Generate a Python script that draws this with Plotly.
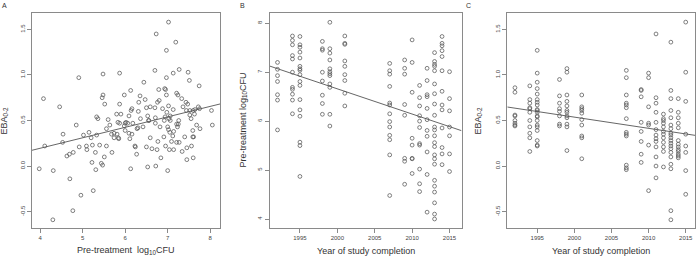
import plotly.graph_objects as go

# ---------------- data ----------------
A_cfu = [4.08, 3.98, 4.11, 4.31, 4.30, 4.46, 4.54, 4.53, 4.63, 4.69, 4.70, 4.77, 4.78, 4.85, 4.91, 4.92,
         4.96, 5.02, 5.10, 5.09, 5.15, 5.20, 5.23, 5.22, 5.25, 5.30, 5.31, 5.33, 5.33, 5.36, 5.40, 5.44,
         5.47, 5.48, 5.46, 5.48, 5.52, 5.51, 5.56, 5.60, 5.64, 5.56, 5.68, 5.69, 5.74, 5.74, 5.81, 5.85,
         5.84, 5.80, 5.83, 5.87, 5.90, 5.87, 5.87, 5.98, 6.00, 6.00,
         7.02, 6.73, 7.19, 6.97, 6.70, 7.13, 7.27, 7.48, 6.97, 7.51, 6.13, 6.44, 6.79, 6.93, 6.95, 7.74,
         6.35, 6.47, 6.32, 6.80, 6.76, 6.97, 7.21, 7.24, 7.33, 7.43, 7.47, 6.16, 6.14, 6.31, 6.50,
         6.59, 6.70, 7.02, 6.88, 7.13, 6.98, 7.36, 7.44, 7.52, 7.60, 7.64, 7.72, 7.75, 8.03, 6.09, 6.36,
         6.53, 6.55, 6.71, 6.94, 7.06, 7.03, 7.06, 6.92, 7.26, 7.52, 7.55, 7.63, 6.02, 6.06, 5.98, 6.18,
         6.30, 6.42, 6.56, 6.71, 6.82, 7.00, 7.02, 7.21, 7.25, 7.23, 7.68, 7.76, 8.05, 6.09, 6.16, 6.28,
         7.05, 7.14, 7.59, 6.11, 6.59, 6.77, 6.91, 7.12, 7.40, 7.59, 7.61, 6.23, 6.24, 6.50, 6.63,
         7.09, 7.21, 7.27, 6.95, 7.45, 7.56, 6.27, 6.75, 7.04, 7.14, 7.34, 6.84, 7.45, 7.60, 6.13, 6.53,
         6.72, 7.00]
A_eba = [0.74, -0.03, 0.22, -0.05, -0.59, 0.65, 0.35, 0.26, 0.11, 0.13, -0.14, -0.49, 0.15, 0.45, 0.97, 0.21,
         -0.32, 0.34, 0.18, 0.22, 0.37, 0.31, 0.23, 0.04, -0.27, 0.15, -0.04, 0.34, 0.54, 0.52, 0.23, 0.03,
         0.01, 1.01, 0.75, 0.78, 0.68, 0.10, 0.22, 0.51, 0.45, 0.41, 0.35, 0.15, 0.31, 0.36, 0.35, 0.30,
         0.31, 0.57, 0.48, 0.47, 0.57, 0.68, 1.02, 0.78, 0.47, 0.39,
         1.58, 1.45, 1.36, 1.27, 1.05, 1.02, 1.06, 1.03, 0.97, 0.94, 0.83, 0.92, 0.84, 0.85, 0.84, 0.88,
         0.77, 0.73, 0.70, 0.72, 0.70, 0.78, 0.80, 0.78, 0.74, 0.70, 0.68, 0.63, 0.61, 0.60, 0.64,
         0.65, 0.64, 0.66, 0.63, 0.62, 0.59, 0.65, 0.61, 0.61, 0.61, 0.62, 0.65, 0.63, 0.61, 0.55, 0.52,
         0.55, 0.50, 0.53, 0.54, 0.55, 0.52, 0.50, 0.50, 0.50, 0.56, 0.52, 0.57, 0.48, 0.47, 0.44, 0.47,
         0.42, 0.43, 0.50, 0.47, 0.43, 0.43, 0.40, 0.46, 0.46, 0.43, 0.45, 0.41, 0.45, 0.36, 0.35, 0.41,
         0.37, 0.38, 0.39, 0.30, 0.31, 0.27, 0.32, 0.33, 0.32, 0.32, 0.32, 0.22, 0.21, 0.21, 0.19,
         0.27, 0.26, 0.26, 0.22, 0.20, 0.22, 0.13, 0.18, 0.18, 0.18, 0.16, 0.09, 0.07, 0.09, -0.03, -0.01,
         0.00, -0.05]

B_year = [1992, 1992, 1992, 1992, 1992, 1992, 1992,
          1994, 1994, 1994, 1994, 1994, 1994, 1994, 1994, 1994, 1994, 1994,
          1995, 1995, 1995, 1995, 1995, 1995, 1995, 1995, 1995, 1995, 1995, 1995, 1995, 1995, 1995, 1995, 1995,
          1998, 1998, 1998, 1998, 1998, 1998, 1998, 1998,
          1999, 1999, 1999, 1999, 1999, 1999, 1999, 1999, 1999, 1999, 1999, 1999,
          2001, 2001, 2001, 2001, 2001, 2001, 2001, 2001, 2001,
          2007, 2007, 2007, 2007, 2007, 2007, 2007, 2007, 2007, 2007, 2007, 2007, 2007,
          2009, 2009, 2009, 2009, 2009, 2009, 2009, 2009,
          2010, 2010, 2010, 2010, 2010, 2010, 2010, 2010,
          2011, 2011, 2011, 2011, 2011, 2011, 2011, 2011, 2011, 2011, 2011,
          2012, 2012, 2012, 2012, 2012, 2012, 2012, 2012, 2012, 2012, 2012,
          2013, 2013, 2013, 2013, 2013, 2013, 2013, 2013, 2013, 2013, 2013, 2013, 2013, 2013, 2013, 2013,
          2013, 2013, 2013, 2013, 2013, 2013, 2013,
          2014, 2014, 2014, 2014, 2014, 2014, 2014, 2014, 2014, 2014, 2014, 2014, 2014,
          2015, 2015, 2015, 2015, 2015, 2015, 2015]
B_cfu = [7.20, 7.06, 6.93, 6.81, 6.54, 6.43, 5.82,
         7.74, 7.65, 7.56, 7.34, 7.27, 7.00, 6.69, 6.65, 6.55, 6.43, 6.15,
         7.73, 7.56, 7.51, 7.41, 7.29, 7.12, 7.07, 7.04, 6.95, 6.81, 6.73, 6.44, 6.23, 6.10, 5.57, 5.50, 4.87,
         7.63, 7.48, 7.45, 7.00, 6.82, 6.53, 6.36, 6.14,
         8.02, 7.48, 7.39, 7.25, 7.07, 7.01, 6.97, 6.93, 6.76, 6.69, 6.14, 5.90,
         7.74, 7.59, 7.57, 7.23, 7.12, 6.95, 6.83, 6.57, 6.31,
         7.18, 7.03, 6.96, 6.71, 6.37, 6.33, 6.15, 5.99, 5.88, 5.71, 5.62, 5.31, 4.48,
         7.25, 7.08, 6.96, 6.34, 6.12, 5.24, 5.18, 4.71,
         7.66, 7.20, 6.59, 5.65, 5.51, 5.23, 5.24, 4.93,
         6.73, 6.48, 6.31, 6.11, 6.00, 5.87, 5.54, 5.51, 5.02, 4.72, 4.56,
         7.08, 6.83, 6.54, 6.50, 6.26, 6.03, 5.81, 5.69, 5.37, 4.91, 4.14,
         7.40, 7.22, 7.16, 7.12, 7.03, 6.76, 6.56, 6.35, 6.12, 5.88, 5.82, 5.70, 5.56, 5.48, 5.31, 5.23,
         5.12, 4.79, 4.67, 4.55, 4.33, 4.10, 4.00,
         7.73, 7.59, 7.54, 7.44, 7.32, 7.03, 6.61, 6.33, 6.23, 5.86, 5.46, 5.33, 5.11,
         7.01, 6.46, 6.21, 5.88, 5.70, 5.33, 4.97]

C_year = [1992, 1992, 1992, 1992, 1992, 1992, 1992, 1992,
          1994, 1994, 1994, 1994, 1994, 1994, 1994, 1994, 1994, 1994, 1994,
          1995, 1995, 1995, 1995, 1995, 1995, 1995, 1995, 1995, 1995, 1995, 1995, 1995, 1995, 1995, 1995,
          1995, 1995, 1995, 1995,
          1998, 1998, 1998, 1998, 1998, 1998, 1998, 1998,
          1999, 1999, 1999, 1999, 1999, 1999, 1999, 1999, 1999, 1999, 1999, 1999,
          2001, 2001, 2001, 2001, 2001, 2001, 2001, 2001, 2001, 2001,
          2007, 2007, 2007, 2007, 2007, 2007, 2007, 2007, 2007, 2007, 2007, 2007, 2007,
          2009, 2009, 2009, 2009, 2009, 2009, 2009, 2009,
          2010, 2010, 2010, 2010, 2010, 2010, 2010,
          2011, 2011, 2011, 2011, 2011, 2011, 2011, 2011, 2011, 2011, 2011, 2011, 2011,
          2012, 2012, 2012, 2012, 2012, 2012, 2012, 2012, 2012, 2012, 2012, 2012,
          2013, 2013, 2013, 2013, 2013, 2013, 2013, 2013, 2013, 2013, 2013, 2013, 2013, 2013, 2013, 2013,
          2013, 2013, 2013, 2013,
          2014, 2014, 2014, 2014, 2014, 2014, 2014, 2014, 2014, 2014, 2014, 2014, 2014,
          2015, 2015, 2015, 2015, 2015, 2015, 2015, 2015]
C_eba = [0.86, 0.81, 0.56, 0.55, 0.50, 0.47, 0.45, 0.44,
         0.88, 0.73, 0.69, 0.64, 0.63, 0.59, 0.50, 0.43, 0.36, 0.31, 0.16,
         1.27, 1.02, 0.92, 0.85, 0.79, 0.73, 0.70, 0.67, 0.62, 0.61, 0.59, 0.55, 0.54, 0.50, 0.45, 0.43,
         0.39, 0.28, 0.23, 0.22,
         0.95, 0.77, 0.69, 0.63, 0.60, 0.55, 0.46, 0.44,
         1.07, 1.03, 0.78, 0.71, 0.66, 0.61, 0.59, 0.55, 0.53, 0.46, 0.43, 0.17,
         0.78, 0.65, 0.63, 0.61, 0.58, 0.51, 0.45, 0.33, 0.31, 0.08,
         1.05, 0.97, 0.78, 0.69, 0.67, 0.64, 0.52, 0.37, 0.35, 0.33, 0.01, -0.02, -0.04,
         0.84, 0.83, 0.76, 0.48, 0.38, 0.27, 0.13, 0.04,
         1.02, 0.97, 0.65, 0.47, 0.45, 0.23, -0.27,
         1.45, 0.75, 0.69, 0.59, 0.48, 0.40, 0.34, 0.30, 0.27, 0.21, 0.10, 0.00, -0.13,
         0.57, 0.52, 0.50, 0.47, 0.43, 0.38, 0.35, 0.31, 0.26, 0.21, 0.16, -0.01,
         1.36, 0.83, 0.74, 0.61, 0.53, 0.45, 0.41, 0.36, 0.34, 0.31, 0.28, 0.25, 0.22, 0.19, 0.15, 0.10,
         0.02, -0.03, -0.49, -0.59,
         0.74, 0.59, 0.53, 0.47, 0.42, 0.28, 0.24, 0.21, 0.18, 0.16, 0.13, 0.11, 0.09,
         1.58, 1.03, 0.71, 0.35, 0.22, 0.15, -0.05, -0.31]

# regression lines (intercept, slope)
A_fit = (-0.265, 0.115)
B_fit = (109.66, -0.0515)
C_fit = (25.137, -0.0123)

panel_labels = ["A", "B", "C"]
A_xticks = [4, 5, 6, 7, 8]
EBA_yticks = [-0.5, 0.0, 0.5, 1.0, 1.5]
year_ticks = [1995, 2000, 2005, 2010, 2015]
CFU_yticks = [4, 5, 6, 7, 8]

# ---------------- layout geometry ----------------
W, H = 696, 258
FONT = "Liberation Sans, Arial, sans-serif"
ranges = {
    "A": ([3.81, 8.23], [-0.68, 1.68]),
    "B": ([1990.93, 2016.6], [3.816, 8.21]),
    "C": ([1990.97, 2016.25], [-0.68, 1.68]),
}
xdom = {"A": [32 / W, 220 / W], "B": [269.5 / W, 461.5 / W], "C": [507.3 / W, 695 / W]}
ydom = [1 - 228 / H, 1 - 13 / H]

fig = go.Figure()
marker = dict(symbol="circle-open", size=3.8, color="#555555", line=dict(width=0.75, color="#555555"))
line_style = dict(color="#555555", width=0.9)

def add_panel(xs, ys, fit, xa, ya, xr):
    fig.add_trace(go.Scatter(x=xs, y=ys, mode="markers", marker=marker, xaxis=xa, yaxis=ya,
                             showlegend=False, hoverinfo="skip"))
    lx = [xr[0], xr[1]]
    ly = [fit[0] + fit[1] * v for v in lx]
    fig.add_trace(go.Scatter(x=lx, y=ly, mode="lines", line=line_style, xaxis=xa, yaxis=ya,
                             showlegend=False, hoverinfo="skip"))

add_panel(A_cfu, A_eba, A_fit, "x", "y", ranges["A"][0])
add_panel(B_year, B_cfu, B_fit, "x2", "y2", ranges["B"][0])
add_panel(C_year, C_eba, C_fit, "x3", "y3", ranges["C"][0])

axcommon = dict(showgrid=False, zeroline=False, showline=True, mirror=True, linecolor="#8a8a8a",
                linewidth=1, ticks="outside", ticklen=4, tickwidth=1, tickcolor="#8a8a8a",
                tickfont=dict(family=FONT, size=6, color="#444444"))

def xax(key, anchor, tickvals):
    d = dict(axcommon)
    d.update(domain=xdom[key], range=ranges[key][0], anchor=anchor, tickmode="array",
             tickvals=tickvals, ticktext=[str(t) for t in tickvals])
    return d

def yax(key, anchor, tickvals, fmt):
    d = dict(axcommon)
    d.update(domain=ydom, range=ranges[key][1], anchor=anchor, tickmode="array",
             tickvals=tickvals, ticktext=[fmt.format(t) for t in tickvals], tickangle=-90)
    return d

fig.update_layout(
    width=W, height=H, margin=dict(l=0, r=0, t=0, b=0),
    paper_bgcolor="white", plot_bgcolor="white",
    font=dict(family=FONT, color="#222222"),
    xaxis=xax("A", "y", A_xticks),
    yaxis=yax("A", "x", EBA_yticks, "{:.1f}"),
    xaxis2=xax("B", "y2", year_ticks),
    yaxis2=yax("B", "x2", CFU_yticks, "{:d}"),
    xaxis3=xax("C", "y3", year_ticks),
    yaxis3=yax("C", "x3", EBA_yticks, "{:.1f}"),
)

ann = []
# panel letters
for lab, px in zip(panel_labels, [4, 242, 468]):
    ann.append(dict(text=lab, x=px / W, y=1 - 5 / H, xref="paper", yref="paper", showarrow=False,
                    xanchor="center", yanchor="middle", font=dict(family=FONT, size=7, color="#333")))
# x titles
xt_y = 1 - 250.5 / H
ann.append(dict(text="Pre-treatment  log<sub>10</sub>CFU", x=126 / W, y=xt_y, xref="paper", yref="paper",
                showarrow=False, xanchor="center", yanchor="middle", font=dict(family=FONT, size=9, color="#333")))
for cx in [365.5, 601]:
    ann.append(dict(text="Year of study completion", x=cx / W, y=xt_y, xref="paper", yref="paper",
                    showarrow=False, xanchor="center", yanchor="middle", font=dict(family=FONT, size=9, color="#333")))
# y titles
yc = 1 - 120.5 / H
for txt, cx in [("EBA<sub>0-2</sub>", 4), ("Pre-treatment log<sub>10</sub>CFU", 243), ("EBA<sub>0-2</sub>", 478)]:
    ann.append(dict(text=txt, x=cx / W, y=yc, xref="paper", yref="paper", showarrow=False, textangle=-90,
                    xanchor="center", yanchor="middle", font=dict(family=FONT, size=9, color="#333")))
fig.update_layout(annotations=ann)

fig.write_html("out.html", config={"displayModeBar": False},
               post_script="document.body.style.margin='0';document.body.style.overflow='hidden';")
